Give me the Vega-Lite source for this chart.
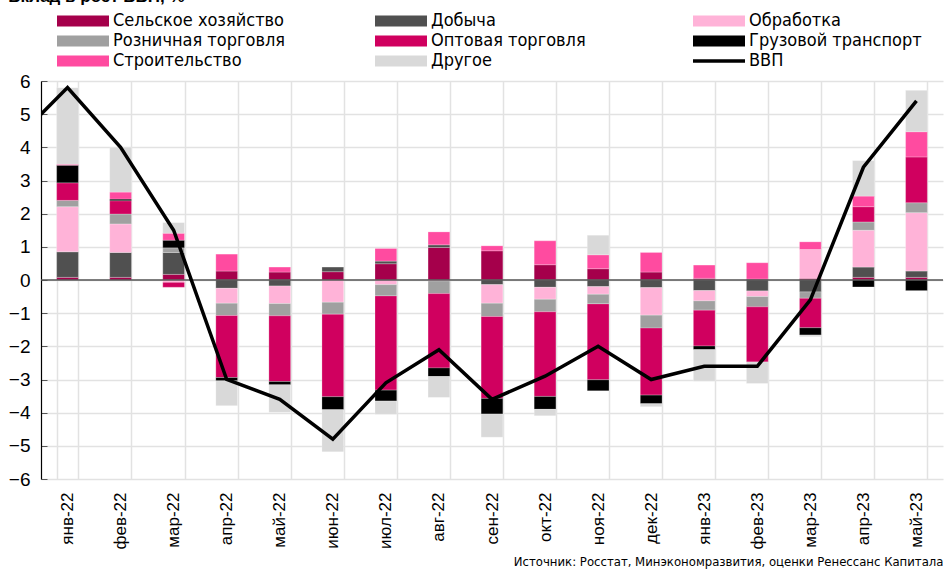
{
  "$schema": "https://vega.github.io/schema/vega-lite/v6.json",
  "autosize": {"type": "fit", "contains": "padding"},
  "width": 944,
  "height": 570,
  "padding": {"left": 8, "top": -12, "right": 0, "bottom": 1},
  "title": {"text": "Вклад в рост ВВП, %", "anchor": "start", "frame": "bounds", "fontSize": 17, "fontWeight": "bold", "font": "Liberation Sans", "offset": 66},
  "config": {
    "view": {"stroke": null},
    "font": "Liberation Sans",
    "axisY": {
      "title": null, "values": [-6,-5,-4,-3,-2,-1,0,1,2,3,4,5,6],
      "labelFontSize": 19, "labelColor": "black", "labelPadding": 17, "labelOverlap": false,
      "domainColor": "black", "domainWidth": 1.2,
      "tickColor": "#555", "tickSize": -6,
      "gridColor": "#e2e2e2", "gridWidth": 1.5
    }
  },
  "datasets": {
    "bars": [
      {"m": "янв-22", "s": "Сельское хозяйство", "v": 0.08},
      {"m": "янв-22", "s": "Добыча", "v": 0.77},
      {"m": "янв-22", "s": "Обработка", "v": 1.36},
      {"m": "янв-22", "s": "Розничная торговля", "v": 0.19},
      {"m": "янв-22", "s": "Оптовая торговля", "v": 0.53},
      {"m": "янв-22", "s": "Грузовой транспорт", "v": 0.53},
      {"m": "янв-22", "s": "Строительство", "v": 0.03},
      {"m": "янв-22", "s": "Другое", "v": 2.31},
      {"m": "фев-22", "s": "Сельское хозяйство", "v": 0.08},
      {"m": "фев-22", "s": "Добыча", "v": 0.75},
      {"m": "фев-22", "s": "Обработка", "v": 0.86},
      {"m": "фев-22", "s": "Розничная торговля", "v": 0.30},
      {"m": "фев-22", "s": "Оптовая торговля", "v": 0.40},
      {"m": "фев-22", "s": "Грузовой транспорт", "v": 0.05},
      {"m": "фев-22", "s": "Строительство", "v": 0.21},
      {"m": "фев-22", "s": "Другое", "v": 1.35},
      {"m": "мар-22", "s": "Сельское хозяйство", "v": 0.17},
      {"m": "мар-22", "s": "Добыча", "v": 0.66},
      {"m": "мар-22", "s": "Обработка", "v": -0.07},
      {"m": "мар-22", "s": "Розничная торговля", "v": 0.14},
      {"m": "мар-22", "s": "Оптовая торговля", "v": -0.15},
      {"m": "мар-22", "s": "Грузовой транспорт", "v": 0.23},
      {"m": "мар-22", "s": "Строительство", "v": 0.21},
      {"m": "мар-22", "s": "Другое", "v": 0.32},
      {"m": "апр-22", "s": "Сельское хозяйство", "v": 0.27},
      {"m": "апр-22", "s": "Добыча", "v": -0.25},
      {"m": "апр-22", "s": "Обработка", "v": -0.45},
      {"m": "апр-22", "s": "Розничная торговля", "v": -0.37},
      {"m": "апр-22", "s": "Оптовая торговля", "v": -1.87},
      {"m": "апр-22", "s": "Грузовой транспорт", "v": -0.10},
      {"m": "апр-22", "s": "Строительство", "v": 0.51},
      {"m": "апр-22", "s": "Другое", "v": -0.75},
      {"m": "май-22", "s": "Сельское хозяйство", "v": 0.24},
      {"m": "май-22", "s": "Добыча", "v": -0.18},
      {"m": "май-22", "s": "Обработка", "v": -0.53},
      {"m": "май-22", "s": "Розничная торговля", "v": -0.37},
      {"m": "май-22", "s": "Оптовая торговля", "v": -1.98},
      {"m": "май-22", "s": "Грузовой транспорт", "v": -0.10},
      {"m": "май-22", "s": "Строительство", "v": 0.15},
      {"m": "май-22", "s": "Другое", "v": -0.83},
      {"m": "июн-22", "s": "Сельское хозяйство", "v": 0.25},
      {"m": "июн-22", "s": "Добыча", "v": 0.14},
      {"m": "июн-22", "s": "Обработка", "v": -0.67},
      {"m": "июн-22", "s": "Розничная торговля", "v": -0.36},
      {"m": "июн-22", "s": "Оптовая торговля", "v": -2.49},
      {"m": "июн-22", "s": "Грузовой транспорт", "v": -0.39},
      {"m": "июн-22", "s": "Другое", "v": -1.27},
      {"m": "июл-22", "s": "Сельское хозяйство", "v": 0.49},
      {"m": "июл-22", "s": "Добыча", "v": 0.08},
      {"m": "июл-22", "s": "Обработка", "v": -0.14},
      {"m": "июл-22", "s": "Розничная торговля", "v": -0.34},
      {"m": "июл-22", "s": "Оптовая торговля", "v": -2.84},
      {"m": "июл-22", "s": "Грузовой транспорт", "v": -0.33},
      {"m": "июл-22", "s": "Строительство", "v": 0.38},
      {"m": "июл-22", "s": "Другое", "v": -0.40},
      {"m": "авг-22", "s": "Сельское хозяйство", "v": 0.98},
      {"m": "авг-22", "s": "Добыча", "v": 0.08},
      {"m": "авг-22", "s": "Обработка", "v": -0.03},
      {"m": "авг-22", "s": "Розничная торговля", "v": -0.38},
      {"m": "авг-22", "s": "Оптовая торговля", "v": -2.24},
      {"m": "авг-22", "s": "Грузовой транспорт", "v": -0.26},
      {"m": "авг-22", "s": "Строительство", "v": 0.39},
      {"m": "авг-22", "s": "Другое", "v": -0.63},
      {"m": "сен-22", "s": "Сельское хозяйство", "v": 0.88},
      {"m": "сен-22", "s": "Добыча", "v": -0.14},
      {"m": "сен-22", "s": "Обработка", "v": -0.56},
      {"m": "сен-22", "s": "Розничная торговля", "v": -0.40},
      {"m": "сен-22", "s": "Оптовая торговля", "v": -2.47},
      {"m": "сен-22", "s": "Грузовой транспорт", "v": -0.47},
      {"m": "сен-22", "s": "Строительство", "v": 0.15},
      {"m": "сен-22", "s": "Другое", "v": -0.70},
      {"m": "окт-22", "s": "Сельское хозяйство", "v": 0.46},
      {"m": "окт-22", "s": "Добыча", "v": -0.22},
      {"m": "окт-22", "s": "Обработка", "v": -0.36},
      {"m": "окт-22", "s": "Розничная торговля", "v": -0.38},
      {"m": "окт-22", "s": "Оптовая торговля", "v": -2.55},
      {"m": "окт-22", "s": "Грузовой транспорт", "v": -0.39},
      {"m": "окт-22", "s": "Строительство", "v": 0.72},
      {"m": "окт-22", "s": "Другое", "v": -0.19},
      {"m": "ноя-22", "s": "Сельское хозяйство", "v": 0.34},
      {"m": "ноя-22", "s": "Добыча", "v": -0.20},
      {"m": "ноя-22", "s": "Обработка", "v": -0.23},
      {"m": "ноя-22", "s": "Розничная торговля", "v": -0.29},
      {"m": "ноя-22", "s": "Оптовая торговля", "v": -2.29},
      {"m": "ноя-22", "s": "Грузовой транспорт", "v": -0.33},
      {"m": "ноя-22", "s": "Строительство", "v": 0.42},
      {"m": "ноя-22", "s": "Другое", "v": 0.59},
      {"m": "дек-22", "s": "Сельское хозяйство", "v": 0.24},
      {"m": "дек-22", "s": "Добыча", "v": -0.23},
      {"m": "дек-22", "s": "Обработка", "v": -0.83},
      {"m": "дек-22", "s": "Розничная торговля", "v": -0.39},
      {"m": "дек-22", "s": "Оптовая торговля", "v": -2.02},
      {"m": "дек-22", "s": "Грузовой транспорт", "v": -0.26},
      {"m": "дек-22", "s": "Строительство", "v": 0.59},
      {"m": "дек-22", "s": "Другое", "v": -0.09},
      {"m": "янв-23", "s": "Сельское хозяйство", "v": 0.05},
      {"m": "янв-23", "s": "Добыча", "v": -0.32},
      {"m": "янв-23", "s": "Обработка", "v": -0.31},
      {"m": "янв-23", "s": "Розничная торговля", "v": -0.28},
      {"m": "янв-23", "s": "Оптовая торговля", "v": -1.08},
      {"m": "янв-23", "s": "Грузовой транспорт", "v": -0.11},
      {"m": "янв-23", "s": "Строительство", "v": 0.40},
      {"m": "янв-23", "s": "Другое", "v": -0.95},
      {"m": "фев-23", "s": "Сельское хозяйство", "v": 0.03},
      {"m": "фев-23", "s": "Добыча", "v": -0.33},
      {"m": "фев-23", "s": "Обработка", "v": -0.17},
      {"m": "фев-23", "s": "Розничная торговля", "v": -0.31},
      {"m": "фев-23", "s": "Оптовая торговля", "v": -1.66},
      {"m": "фев-23", "s": "Строительство", "v": 0.49},
      {"m": "фев-23", "s": "Другое", "v": -0.65},
      {"m": "мар-23", "s": "Сельское хозяйство", "v": 0.05},
      {"m": "мар-23", "s": "Добыча", "v": -0.36},
      {"m": "мар-23", "s": "Обработка", "v": 0.87},
      {"m": "мар-23", "s": "Розничная торговля", "v": -0.19},
      {"m": "мар-23", "s": "Оптовая торговля", "v": -0.89},
      {"m": "мар-23", "s": "Грузовой транспорт", "v": -0.22},
      {"m": "мар-23", "s": "Строительство", "v": 0.23},
      {"m": "мар-23", "s": "Другое", "v": -0.05},
      {"m": "апр-23", "s": "Сельское хозяйство", "v": 0.08},
      {"m": "апр-23", "s": "Добыча", "v": 0.31},
      {"m": "апр-23", "s": "Обработка", "v": 1.11},
      {"m": "апр-23", "s": "Розничная торговля", "v": 0.25},
      {"m": "апр-23", "s": "Оптовая торговля", "v": 0.46},
      {"m": "апр-23", "s": "Грузовой транспорт", "v": -0.21},
      {"m": "апр-23", "s": "Строительство", "v": 0.32},
      {"m": "апр-23", "s": "Другое", "v": 1.07},
      {"m": "май-23", "s": "Сельское хозяйство", "v": 0.08},
      {"m": "май-23", "s": "Добыча", "v": 0.19},
      {"m": "май-23", "s": "Обработка", "v": 1.76},
      {"m": "май-23", "s": "Розничная торговля", "v": 0.30},
      {"m": "май-23", "s": "Оптовая торговля", "v": 1.38},
      {"m": "май-23", "s": "Грузовой транспорт", "v": -0.32},
      {"m": "май-23", "s": "Строительство", "v": 0.76},
      {"m": "май-23", "s": "Другое", "v": 1.25}
    ],
    "gdp": [
      {"m": "дек-21", "v": 4.2},
      {"m": "янв-22", "v": 5.8},
      {"m": "фев-22", "v": 4.0},
      {"m": "мар-22", "v": 1.5},
      {"m": "апр-22", "v": -3.0},
      {"m": "май-22", "v": -3.6},
      {"m": "июн-22", "v": -4.8},
      {"m": "июл-22", "v": -3.1},
      {"m": "авг-22", "v": -2.1},
      {"m": "сен-22", "v": -3.6},
      {"m": "окт-22", "v": -2.9},
      {"m": "ноя-22", "v": -2.0},
      {"m": "дек-22", "v": -3.0},
      {"m": "янв-23", "v": -2.6},
      {"m": "фев-23", "v": -2.6},
      {"m": "мар-23", "v": -0.6},
      {"m": "апр-23", "v": 3.4},
      {"m": "май-23", "v": 5.4}
    ]
  },
  "resolve": {"scale": {"x": "independent"}, "axis": {"x": "independent"}},
  "layer": [
    {
      "data": {"name": "bars"},
      "transform": [
        {"calculate": "indexof(['Сельское хозяйство','Добыча','Обработка','Розничная торговля','Оптовая торговля','Грузовой транспорт','Строительство','Другое'], datum.s)", "as": "ord"}
      ],
      "mark": {"type": "bar", "stroke": "white", "strokeWidth": 0.4, "strokeOpacity": 0.6},
      "encoding": {
        "x": {
          "field": "m", "type": "ordinal",
          "sort": ["янв-22","фев-22","мар-22","апр-22","май-22","июн-22","июл-22","авг-22","сен-22","окт-22","ноя-22","дек-22","янв-23","фев-23","мар-23","апр-23","май-23"],
          "scale": {"paddingInner": 0.59, "paddingOuter": 0.295},
          "axis": {
            "title": "Источник: Росстат, Минэкономразвития, оценки Ренессанс Капитала",
            "titleFont": "Liberation Sans Narrow, DejaVu Sans Condensed, Liberation Sans", "titleFontSize": 13, "titleFontWeight": "normal", "titleColor": "black",
            "titleAnchor": "end", "titlePadding": 6,
            "labelAngle": -90, "labelFontSize": 17, "labelColor": "black", "labelPadding": 13,
            "ticks": false, "domain": false,
            "grid": true, "tickBand": "extent", "gridColor": "#e2e2e2", "gridWidth": 1.5
          }
        },
        "y": {
          "field": "v", "type": "quantitative", "stack": "zero",
          "scale": {"domain": [-6, 6], "nice": false, "zero": false}
        },
        "color": {
          "field": "s", "type": "nominal",
          "scale": {
            "domain": ["Сельское хозяйство","Добыча","Обработка","Розничная торговля","Оптовая торговля","Грузовой транспорт","Строительство","Другое","ВВП"],
            "range": ["#a5004b","#505050","#ffb3d8","#a0a0a0","#d0005f","#000000","#ff4ba0","#d9d9d9","#000000"]
          },
          "legend": {
            "title": null, "orient": "none", "legendX": 33, "legendY": -69, "direction": "horizontal",
            "columns": 3, "gridAlign": "all", "columnPadding": 82, "rowPadding": 2,
            "symbolSize": 2704,
            "symbolType": {"expr": "datum.value === 'ВВП' ? 'stroke' : 'M-1,-0.21H1V0.21H-1Z'"},
            "symbolStrokeWidth": {"expr": "datum.value === 'ВВП' ? 3.5 : 0"},
            "labelFont": "Liberation Sans Narrow, DejaVu Sans Condensed, Liberation Sans", "labelFontSize": 18, "labelColor": "black", "labelOffset": 21, "labelLimit": 300
          }
        },
        "order": {"field": "ord", "type": "quantitative"}
      }
    },
    {
      "data": {"values": [{}]},
      "mark": {"type": "rule", "color": "#555555", "strokeWidth": 1.5},
      "encoding": {"y": {"datum": 0, "type": "quantitative"}}
    },
    {
      "data": {"name": "gdp"},
      "mark": {"type": "line", "strokeWidth": 3.5, "clip": true, "strokeJoin": "miter"},
      "encoding": {
        "x": {
          "field": "m", "type": "ordinal",
          "scale": {
            "type": "point", "padding": 0,
            "domain": ["дек-21","янв-22","фев-22","мар-22","апр-22","май-22","июн-22","июл-22","авг-22","сен-22","окт-22","ноя-22","дек-22","янв-23","фев-23","мар-23","апр-23","май-23"],
            "range": [{"expr": "-width/34"}, {"expr": "width*33/34"}]
          },
          "axis": null
        },
        "y": {"field": "v", "type": "quantitative"},
        "color": {
          "datum": "ВВП", "type": "nominal",
          "legend": {
            "title": null, "orient": "none", "legendX": 33, "legendY": -69, "direction": "horizontal",
            "columns": 3, "gridAlign": "all", "columnPadding": 82, "rowPadding": 2,
            "symbolSize": 2704,
            "symbolType": {"expr": "datum.value === 'ВВП' ? 'stroke' : 'M-1,-0.21H1V0.21H-1Z'"},
            "symbolStrokeWidth": {"expr": "datum.value === 'ВВП' ? 3.5 : 0"},
            "labelFont": "Liberation Sans Narrow, DejaVu Sans Condensed, Liberation Sans", "labelFontSize": 18, "labelColor": "black", "labelOffset": 21, "labelLimit": 300
          }
        }
      }
    }
  ]
}
